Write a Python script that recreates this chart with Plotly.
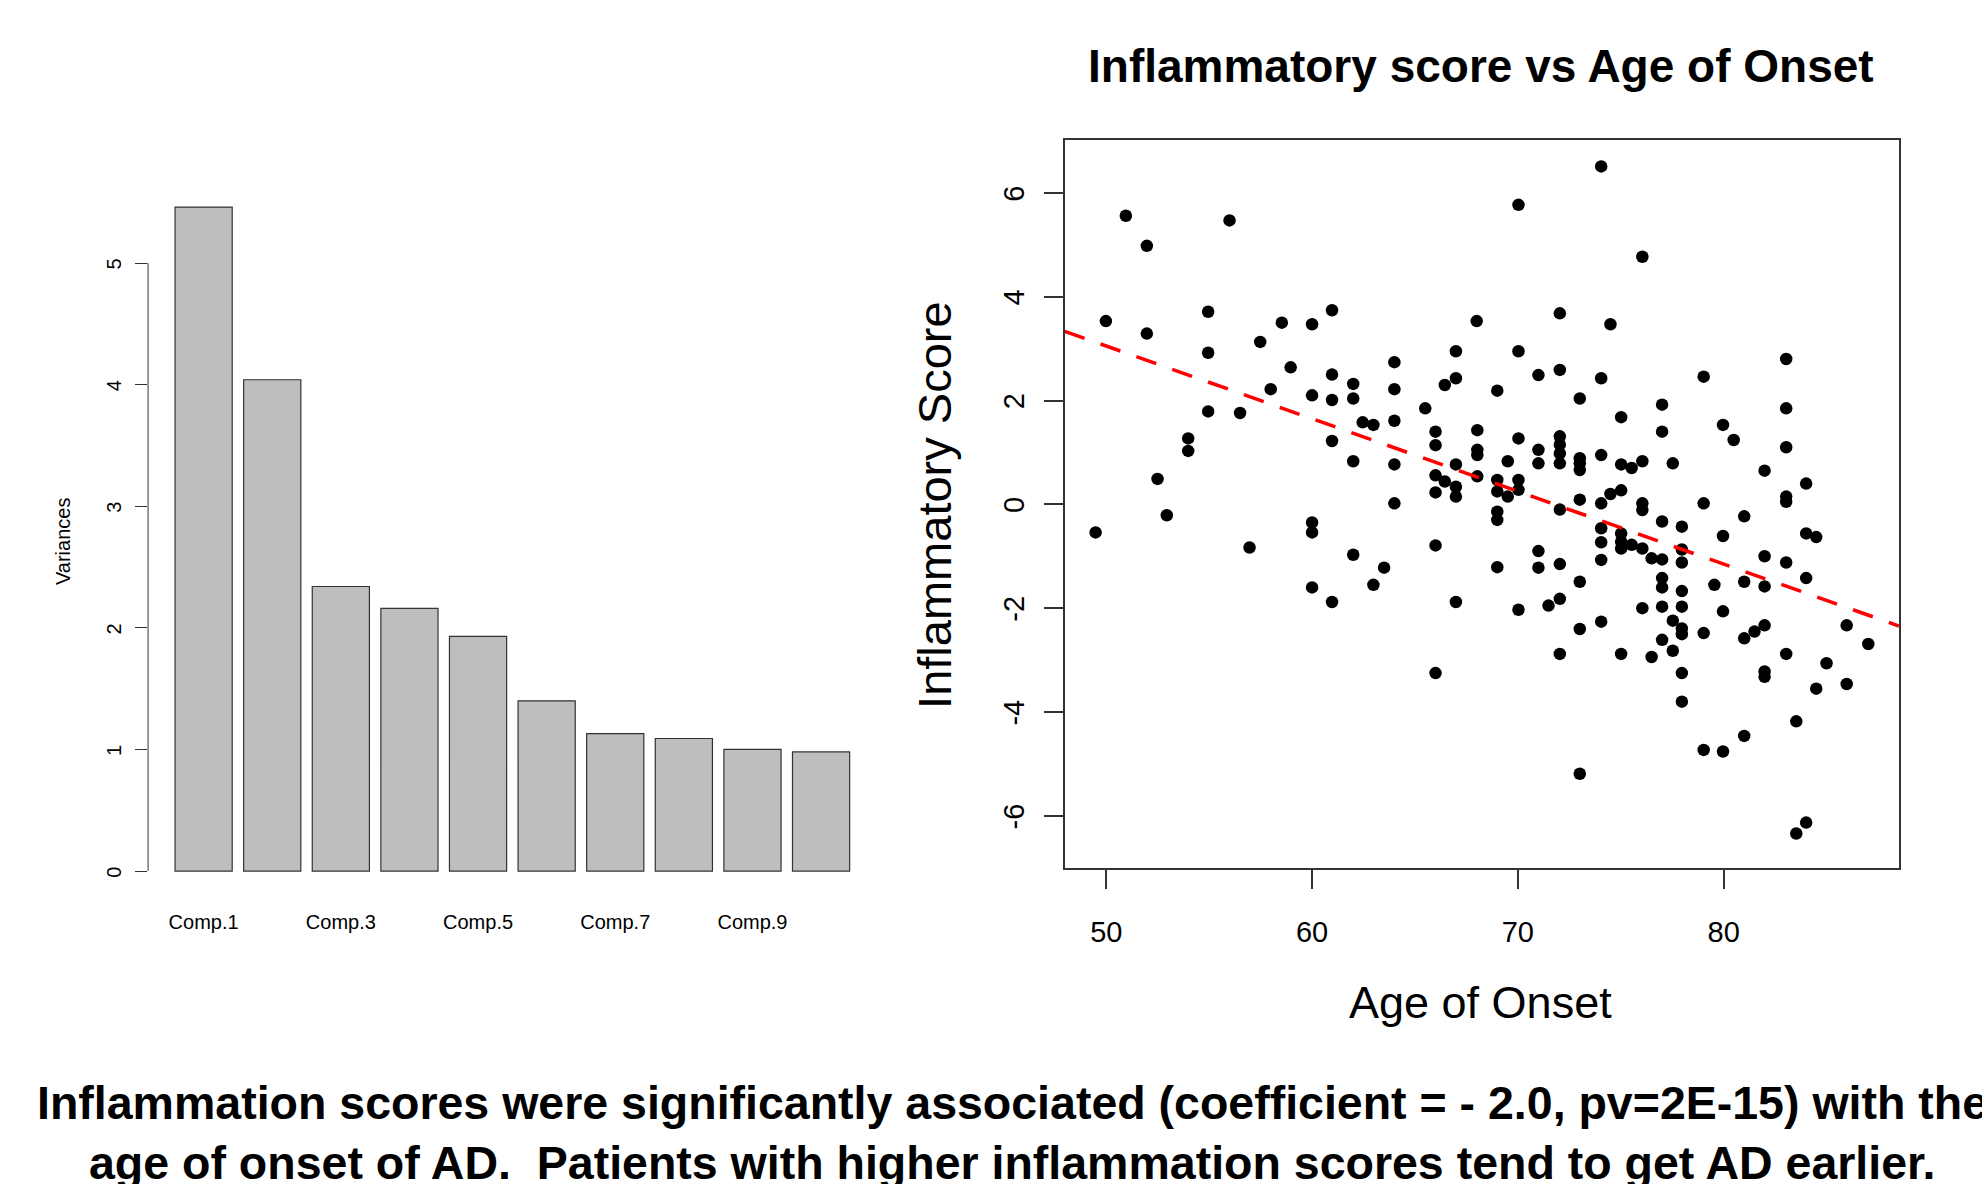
"""
plot.py — PCA variances + inflammatory score vs age of onset.
"""
import plotly.graph_objects as go

# ---- left panel: PCA component variances ----
components = ["Comp.%d" % i for i in range(1, 11)]
variances = [5.46, 4.04, 2.34, 2.16, 1.93, 1.40, 1.13, 1.09, 1.00, 0.98]
var_ticks = [0, 1, 2, 3, 4, 5]

# ---- right panel: inflammatory score vs age of onset ----
age = [
    50.95, 51.97, 55.99, 49.98, 51.97, 54.95, 54.95, 57.48, 58.53, 60.0,
    60.97, 57.99, 58.96, 60.0, 60.97, 60.97, 62.0, 62.0, 54.95, 56.5,
    53.98, 53.98, 52.49, 62.46, 62.98, 60.97, 62.0, 64.0, 64.0, 64.0,
    64.0, 64.0, 65.5, 66.0, 66.0, 66.0, 66.0, 66.45, 66.45, 66.99,
    66.99, 66.99, 66.99, 66.99, 68.0,
    74.05, 70.03, 76.05, 72.04, 74.5, 70.03, 71.0, 72.04, 74.05, 69.0,
    79.03, 83.04, 83.04, 73.01, 75.02, 77.01, 77.01, 79.97, 80.49, 83.04,
    81.99, 84.01, 83.04, 83.04, 68.03, 68.03, 68.03, 68.03, 70.03, 71.0,
    71.0, 72.04, 72.04, 72.04, 72.04, 73.01, 73.01, 73.01, 69.51, 74.05,
    75.02, 75.53, 76.05, 77.53, 69.0, 69.0, 69.51, 70.03, 70.03, 73.01,
    74.05, 74.5, 75.02, 76.05, 79.03, 72.04,
    69.0, 69.0, 69.0, 70.03, 71.0, 71.0, 71.49, 72.04, 72.04, 72.04,
    73.01, 73.01, 73.01, 74.05, 74.05, 74.05, 74.05, 75.02, 75.02, 75.02,
    75.53, 76.05, 75.02, 76.05, 76.05, 76.5, 77.01, 76.5, 77.01, 77.01,
    77.01, 77.01, 77.01, 77.53, 77.53, 77.97, 77.97, 77.97, 77.97, 77.97,
    77.97, 77.97, 77.97, 77.97, 79.03, 79.03, 79.55, 79.97, 79.97, 79.97,
    81.0, 81.0, 81.0, 81.0, 81.5, 81.99, 81.99, 81.99, 81.99, 81.99,
    83.04, 83.04, 84.01, 84.5, 84.01, 83.53, 84.01, 83.53, 84.5, 85.0,
    85.98, 85.98, 87.03,
    49.48, 52.94, 56.96, 60.0, 60.0, 60.0, 60.97, 62.0, 62.98, 63.5,
    66.0, 66.0, 66.99,
]
score = [
    5.56, 4.98, 5.47, 3.53, 3.29, 3.71, 2.92, 3.13, 3.50, 3.47,
    3.74, 2.22, 2.64, 2.10, 2.50, 2.01, 2.32, 2.04, 1.79, 1.76,
    1.27, 1.03, 0.49, 1.58, 1.53, 1.22, 0.83, 2.74, 2.22, 1.61,
    0.77, 0.02, 1.85, 1.40, 1.14, 0.56, 0.23, 0.44, 2.30, 2.43,
    2.95, 0.77, 0.34, 0.15, 3.53,
    6.51, 5.77, 4.77, 3.68, 3.47, 2.95, 2.49, 2.59, 2.43, 2.19,
    2.46, 2.80, 1.85, 2.04, 1.68, 1.92, 1.40, 1.53, 1.24, 1.10,
    0.65, 0.40, 0.15, 0.05, 1.43, 1.05, 0.95, 0.54, 1.27, 1.05,
    0.79, 1.31, 1.15, 0.98, 0.79, 0.89, 0.79, 0.66, 0.83, 0.95,
    0.77, 0.70, 0.83, 0.79, 0.47, 0.25, 0.15, 0.47, 0.28, 0.09,
    0.02, 0.20, 0.27, 0.02, 0.02, -0.10,
    -0.14, -0.30, -1.21, -2.03, -0.90, -1.22, -1.95, -1.82, -1.15, -2.88,
    -1.49, -2.40, -5.19, -0.46, -0.73, -1.07, -2.26, -0.56, -0.72, -0.85,
    -0.78, -0.85, -2.88, -0.11, -2.00, -1.04, -1.06, -2.94, -0.33, -1.42,
    -1.60, -1.97, -2.61, -2.24, -2.82, -0.43, -0.87, -1.12, -1.67, -1.97,
    -2.39, -2.50, -3.25, -3.80, -2.48, -4.73, -1.55, -0.61, -2.06, -4.76,
    -0.23, -1.49, -2.58, -4.46, -2.45, -2.33, -1.00, -1.58, -3.22, -3.32,
    -1.12, -2.88, -0.56, -0.63, -1.42, -4.18, -6.13, -6.34, -3.55, -3.06,
    -2.33, -3.46, -2.69,
    -0.54, -0.21, -0.83, -0.35, -0.54, -1.60, -1.88, -0.97, -1.55, -1.22,
    -0.79, -3.25, -1.88,
]
age_ticks = [50, 60, 70, 80]
score_ticks = [-6, -4, -2, 0, 2, 4, 6]
score_ticktext = ["-6", "-4", "-2", "0", "2", "4", "6"]

# fitted line: score = intercept + slope * age
fit_intercept = 10.05
fit_slope = -0.14
age_range = [47.98, 88.52]
score_range = [-7.0, 7.02]

FONT = "Liberation Sans, Arial, sans-serif"
NARROW = "Liberation Sans Narrow, Arial Narrow, sans-serif"
FRAME = "#333333"

fig = go.Figure()

fig.add_trace(go.Bar(
    x=components, y=variances,
    marker=dict(color="#BEBEBE", line=dict(color="#333333", width=1.2)),
    xaxis="x", yaxis="y", showlegend=False,
))

fig.add_trace(go.Scatter(
    x=age, y=score, mode="markers",
    marker=dict(color="black", size=12.5),
    xaxis="x2", yaxis="y2", showlegend=False,
))

fig.add_trace(go.Scatter(
    x=age_range,
    y=[fit_intercept + fit_slope * a for a in age_range],
    mode="lines",
    line=dict(color="#FF0000", width=3.5, dash="21px,17px"),
    xaxis="x2", yaxis="y2", showlegend=False,
))

fig.update_layout(
    width=1982, height=1184, autosize=False,
    margin=dict(l=0, r=0, t=0, b=0),
    paper_bgcolor="white", plot_bgcolor="white",
    font=dict(family=FONT, color="black"),
    bargap=0.1667,
    xaxis=dict(
        domain=[0.0747, 0.4423], anchor="y", type="category",
        range=[-0.81, 9.81], tickvals=components[::2],
        showline=False, showgrid=False, zeroline=False, ticks="",
        tickfont=dict(size=20), ticklabelstandoff=10,
    ),
    yaxis=dict(
        domain=[0.2417, 0.8477], anchor="x",
        range=[-0.22, 5.68], tickvals=var_ticks, tickangle=-90,
        showline=False, showgrid=False, zeroline=False,
        ticks="outside", ticklen=12, tickwidth=1, tickcolor=FRAME,
        tickfont=dict(size=20), ticklabelstandoff=6, ticklabelshift=4,
    ),
    xaxis2=dict(
        domain=[0.5372, 0.9581], anchor="y2",
        range=age_range, tickvals=age_ticks,
        showline=True, mirror=True, linecolor=FRAME, linewidth=2,
        showgrid=False, zeroline=False,
        ticks="outside", ticklen=19, tickwidth=1.5, tickcolor=FRAME,
        tickfont=dict(size=29), ticklabelstandoff=18,
    ),
    yaxis2=dict(
        domain=[0.2671, 0.8818], anchor="x2",
        range=score_range, tickvals=score_ticks, ticktext=score_ticktext,
        tickangle=-90,
        showline=True, mirror=True, linecolor=FRAME, linewidth=2,
        showgrid=False, zeroline=False,
        ticks="outside", ticklen=19, tickwidth=1.5, tickcolor=FRAME,
        tickfont=dict(size=29), ticklabelstandoff=8, ticklabelshift=5,
    ),
    shapes=[dict(
        type="line", xref="x domain", yref="y",
        x0=0, x1=0, y0=var_ticks[0], y1=var_ticks[-1],
        line=dict(color=FRAME, width=1),
    )],
)

ann = [
    dict(text="<b>Inflammatory score vs Age of Onset</b>", x=0.7472, y=0.9443,
         font=dict(size=46)),
    dict(text="Age of Onset", x=0.7472, y=0.1537, font=dict(size=45)),
    dict(text="Inflammatory Score", x=0.4717, y=0.5735, textangle=-90,
         font=dict(size=47)),
    dict(text="Variances", x=0.0318, y=0.5422, textangle=-90,
         font=dict(size=20)),
    dict(text="<b>Inflammation scores were significantly associated "
              "(coefficient = - 2.0, pv=2E-15) with the</b>",
         x=0.5106, y=0.0684, font=dict(size=46.5, family=NARROW)),
    dict(text="<b>age of onset of AD.  Patients with higher inflammation "
              "scores tend to get AD earlier.</b>",
         x=0.5106, y=0.0177, font=dict(size=46.5, family=NARROW)),
]
for a in ann:
    fig.add_annotation(xref="paper", yref="paper", showarrow=False,
                       xanchor="center", yanchor="middle", **a)

fig.write_html("out.html", config={"displayModeBar": False},
               post_script="document.body.style.margin='0px';")
